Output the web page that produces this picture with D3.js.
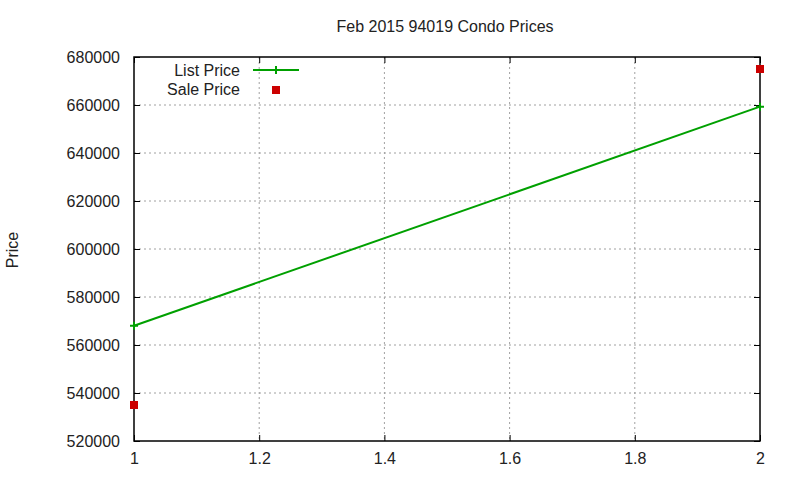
<!DOCTYPE html>
<html>
<head>
<meta charset="utf-8">
<script src="https://cdn.jsdelivr.net/npm/d3@7"></script>
<style>
  body { margin: 0; background: #fff; }
  text { font-family: "Liberation Sans", Arial, sans-serif; font-size: 16px; fill: #222; }
</style>
</head>
<body>
<div id="chart"></div>
<script>
var xValues = [1, 2];
var listPrice = [568000, 659300];
var salePrice = [535000, 675000];
var xTicks = [1, 1.2, 1.4, 1.6, 1.8, 2];
var yTicks = [520000, 540000, 560000, 580000, 600000, 620000, 640000, 660000, 680000];

var margins = {left: 134, right: 40, top: 57, bottom: 39},
  w = 800 - margins.left - margins.right,
  h = 480 - margins.top - margins.bottom;

var svg = d3.select('#chart')
  .append('svg')
  .attr('width', 800)
  .attr('height', 480)
  .append('g')
  .attr('transform', 'translate(' + margins.left + ',' + margins.top + ')');

var xScale = d3.scaleLinear().range([0, w]).domain([1, 2]);
var yScale = d3.scaleLinear().range([h, 0]).domain([520000, 680000]);

// grid
svg.append('g').selectAll('.vgrid')
  .data(xTicks.slice(1, -1))
  .enter().append('line')
  .attr('x1', function(d) {return xScale(d);})
  .attr('x2', function(d) {return xScale(d);})
  .attr('y1', 0).attr('y2', h)
  .attr('stroke', '#a0a0a0').attr('stroke-dasharray', '2,3');
svg.append('g').selectAll('.hgrid')
  .data(yTicks.slice(1, -1))
  .enter().append('line')
  .attr('y1', function(d) {return yScale(d);})
  .attr('y2', function(d) {return yScale(d);})
  .attr('x1', 0).attr('x2', w)
  .attr('stroke', '#a0a0a0').attr('stroke-dasharray', '2,3');

// axes, ticks inward on all sides
var xAxis = d3.axisBottom(xScale).tickValues(xTicks).tickSizeInner(-6).tickSizeOuter(0).tickPadding(12)
  .tickFormat(d3.format('~g'));
var yAxis = d3.axisLeft(yScale).tickValues(yTicks).tickSizeInner(-6).tickSizeOuter(0).tickPadding(14)
  .tickFormat(d3.format('d'));
svg.append('g').attr('transform', 'translate(0,' + h + ')').call(xAxis);
svg.append('g').call(yAxis);
svg.append('g').call(d3.axisTop(xScale).tickValues(xTicks).tickSizeInner(-6).tickSizeOuter(0).tickFormat(''));
svg.append('g').attr('transform', 'translate(' + w + ',0)')
  .call(d3.axisRight(yScale).tickValues(yTicks).tickSizeInner(-6).tickSizeOuter(0).tickFormat(''));
svg.selectAll('.domain').remove();
svg.selectAll('.tick line').attr('stroke', '#000');
svg.selectAll('.tick text').style('font-size', '16px').style('font-family', '"Liberation Sans", Arial, sans-serif').attr('fill', '#222');

svg.append('rect')
  .attr('width', w).attr('height', h)
  .attr('fill', 'none').attr('stroke', '#000').attr('stroke-width', 1.5);

// list price line
var line = d3.line()
  .x(function(d, i) {return xScale(xValues[i]);})
  .y(function(d) {return yScale(d);});
svg.append('path')
  .datum(listPrice)
  .attr('d', line)
  .attr('fill', 'none')
  .attr('stroke', '#00a000')
  .attr('stroke-width', 2);
svg.append('g').selectAll('.plus')
  .data(listPrice)
  .enter().append('path')
  .attr('d', function(d, i) {
    var x = xScale(xValues[i]), y = yScale(d);
    return 'M' + (x - 4) + ',' + y + 'H' + (x + 4) + 'M' + x + ',' + (y - 4) + 'V' + (y + 4);
  })
  .attr('stroke', '#00a000').attr('stroke-width', 2);

// sale price points
svg.append('g').selectAll('.sale')
  .data(salePrice)
  .enter().append('rect')
  .attr('x', function(d, i) {return xScale(xValues[i]) - 4;})
  .attr('y', function(d) {return yScale(d) - 4;})
  .attr('width', 8).attr('height', 8)
  .attr('fill', '#cc0000');

// legend
var legend = svg.append('g');
legend.append('text').text('List Price')
  .attr('x', 240 - margins.left).attr('y', 70 - margins.top).attr('dy', '0.35em').attr('text-anchor', 'end');
legend.append('line')
  .attr('x1', 253 - margins.left).attr('x2', 299 - margins.left)
  .attr('y1', 70 - margins.top).attr('y2', 70 - margins.top)
  .attr('stroke', '#00a000').attr('stroke-width', 2);
legend.append('path')
  .attr('d', 'M' + (276 - margins.left) + ',' + (66 - margins.top) + 'v8')
  .attr('stroke', '#00a000').attr('stroke-width', 2);
legend.append('text').text('Sale Price')
  .attr('x', 240 - margins.left).attr('y', 89 - margins.top).attr('dy', '0.35em').attr('text-anchor', 'end');
legend.append('rect')
  .attr('x', 272 - margins.left).attr('y', 86 - margins.top)
  .attr('width', 8).attr('height', 8).attr('fill', '#cc0000');

// title and y label
svg.append('text')
  .text('Feb 2015 94019 Condo Prices')
  .attr('text-anchor', 'middle')
  .attr('transform', 'translate(' + (445 - margins.left) + ',' + (26 - margins.top) + ')')
  .attr('dy', '0.35em');
svg.append('text')
  .text('Price')
  .attr('text-anchor', 'middle')
  .attr('transform', 'translate(' + (12 - margins.left) + ',' + (250 - margins.top) + ') rotate(-90)')
  .attr('dy', '0.35em');
</script>
</body>
</html>
